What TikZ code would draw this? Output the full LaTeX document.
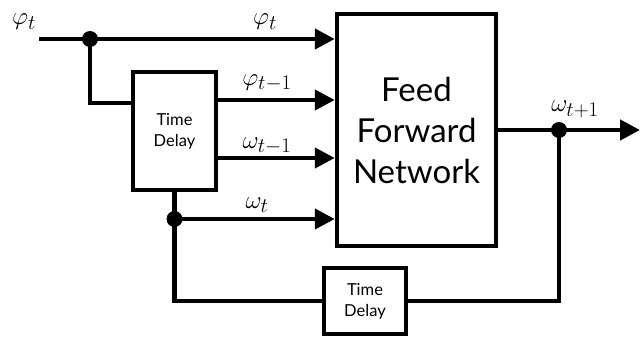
\documentclass[tikz,border=0pt]{standalone}
\usepackage{fontspec}
\setmainfont{Lato}
\usetikzlibrary{arrows.meta}
\tikzset{
  wire/.style={line width=4.5pt},
  feed/.style={wire, -{Triangle[length=20pt,width=20pt]}},
  box/.style={draw, line width=4.5pt, rectangle, inner sep=0pt, align=center},
  delaybox/.style={box, font=\fontsize{16.5}{21}\selectfont},
  dot/.style={circle, fill, inner sep=0pt, minimum size=16pt},
  sig/.style={inner sep=0pt, font=\fontsize{29}{34}\selectfont}
}
\begin{document}
\begin{tikzpicture}[x=1pt, y=-1pt]
\useasboundingbox (0,0) rectangle (640,337);

% blocks
\node[box, minimum width=159pt, minimum height=232pt,
      font=\fontsize{33}{41}\selectfont] (ffn) at (416.5,130) {Feed\\Forward\\Network};
\node[delaybox, minimum width=83pt, minimum height=118pt] (td1) at (174.5,131) {Time\\Delay};
\node[delaybox, minimum width=82pt, minimum height=66pt] (td2) at (365,301) {Time\\Delay};

% junctions and free ends
\coordinate (in) at (39,39);
\node[dot] (j1) at (90,39) {};
\coordinate (td1in) at (td1.west |- 0,103);
\node[dot] (j2) at (td1.south |- 0,219) {};
\node[dot] (j3) at (559,130) {};
\coordinate (out) at (640,130);

% signal paths
\draw[feed] (in) -- (ffn.west |- in);
\draw[wire] (j1.center) |- (td1in);
\draw[feed] (td1.east |- 0,100) -- (ffn.west |- 0,100);
\draw[feed] (td1.east |- 0,158) -- (ffn.west |- 0,158);
\draw[wire] (td1.south) -- (j2.center);
\draw[feed] (j2.center) -- (ffn.west |- j2);
\draw[wire] (j2.center) |- (td2.west);
\draw[feed] (ffn.east) -- (out);
\draw[wire] (j3.center) |- (td2.east);

% signal labels
\node[sig] (lin) at (24,22) {$\varphi_t$};
\node[sig] (l0) at (265,22) {$\varphi_t$};
\node[sig] (l1) at (267,83) {$\varphi_{t-1}$};
\node[sig] (l2) at (267,146) {$\omega_{t-1}$};
\node[sig] (l3) at (257,205) {$\omega_t$};
\node[sig] (l4) at (575,109) {$\omega_{t+1}$};
\end{tikzpicture}
\end{document}
